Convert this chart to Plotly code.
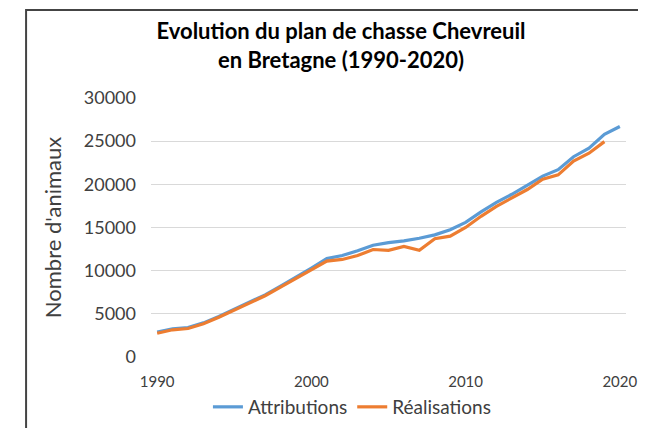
import plotly.graph_objects as go

annees = list(range(1990, 2021))
attributions = [2900, 3250, 3400, 3950, 4700, 5550, 6400, 7200, 8200, 9200,
                10300, 11400, 11750, 12300, 12950, 13250, 13450, 13750, 14150, 14750,
                15600, 16800, 17900, 18850, 19850, 20950, 21700, 23200, 24200, 25800,
                26700]
realisations = [2750, 3150, 3300, 3850, 4600, 5450, 6300, 7100, 8100, 9100,
                10100, 11100, 11300, 11750, 12450, 12350, 12800, 12350, 13700, 14000,
                15000, 16300, 17450, 18400, 19400, 20600, 21100, 22700, 23600, 24950]
x_ticks = [1990, 2000, 2010, 2020]
y_ticks = [0, 5000, 10000, 15000, 20000, 25000, 30000]
y_labels = ["0", "5000", "10000", "15000", "20000", "25000", "30000"]

FONT = "Lato"

fig = go.Figure()
fig.add_trace(go.Scatter(
    x=annees, y=attributions, mode="lines", name="Attributions",
    line=dict(color="#5B9BD5", width=3.2)
))
fig.add_trace(go.Scatter(
    x=annees[:len(realisations)], y=realisations, mode="lines", name="Réalisations",
    line=dict(color="#ED7D31", width=3.2)
))

# cadre (coin haut-gauche du cadre de l'image d'origine)
fig.add_shape(type="path", xref="paper", yref="paper",
              path="M -0.263,-0.4 L -0.263,1.34 L 1.2,1.34",
              line=dict(color="#444444", width=2))

# la page a une marge de 8 px : figure 638x420 décalée
fig.update_layout(
    width=638, height=420,
    margin=dict(l=143, r=20, t=90, b=71, autoexpand=False),
    paper_bgcolor="white", plot_bgcolor="white",
    font=dict(family=FONT, color="#595959"),
    title=dict(
        text="<b>Evolution du plan de chasse Chevreuil<br>en Bretagne (1990-2020)</b>",
        x=0.4, xref="paper", xanchor="center",
        y=1 - 31 / 420, yref="container", yanchor="middle",
        font=dict(family=FONT, size=22, color="#000000")
    ),
    xaxis=dict(
        range=[1989.6, 2020.4], tickvals=x_ticks, showgrid=False,
        zeroline=False, showline=False, ticks="", ticklabelstandoff=14,
        tickfont=dict(size=15, color="#404040")
    ),
    yaxis=dict(
        range=[0, 30000], tickvals=y_ticks, ticktext=y_labels, showgrid=True,
        gridcolor="#d9d9d9", gridwidth=1, zeroline=False, showline=False,
        ticks="", ticklabelstandoff=14, tickfont=dict(size=18, color="#404040"),
        title=dict(text="Nombre d'animaux", font=dict(size=22, color="#404040"),
                   standoff=16)
    ),
    showlegend=True,
    legend=dict(
        orientation="h", x=0.423, xanchor="center", y=-0.193, yanchor="middle",
        font=dict(size=19, color="#404040"), itemwidth=30,
        bgcolor="rgba(0,0,0,0)"
    ),
)

fig.write_html("out.html")
